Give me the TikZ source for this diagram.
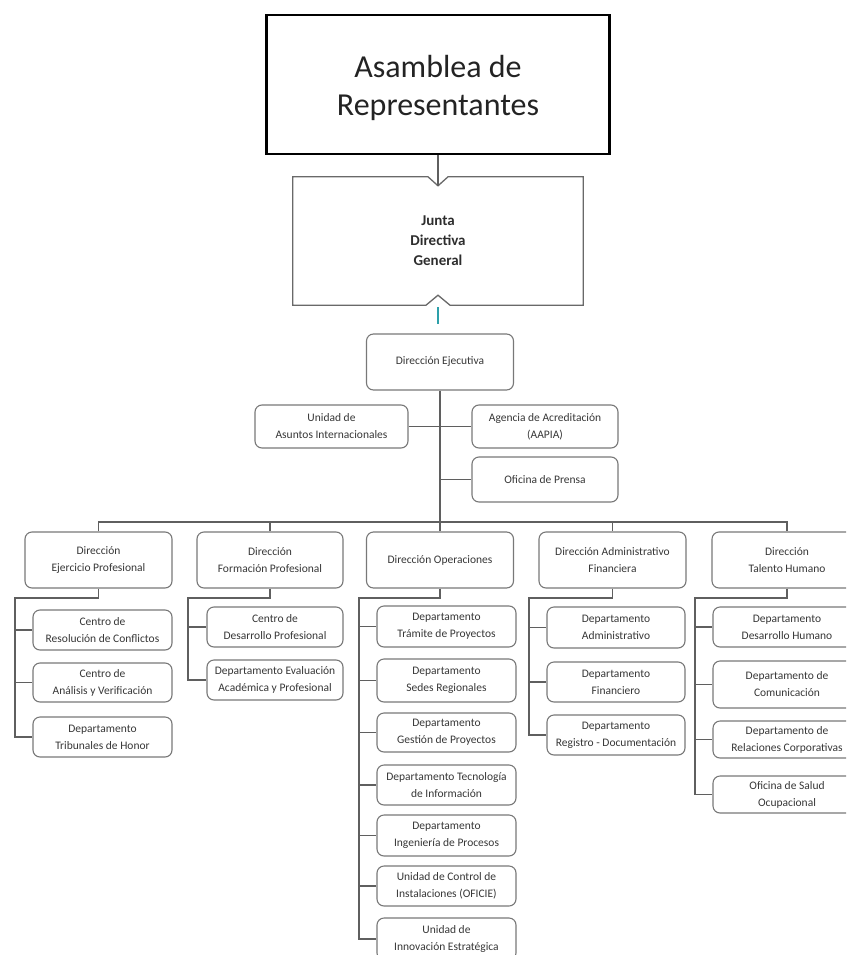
\documentclass[tikz,border=0pt]{standalone}
\usepackage{fontspec}
\setmainfont{Carlito}
\usetikzlibrary{calc}
\definecolor{ink}{RGB}{55,55,55}
\definecolor{edgegray}{RGB}{120,120,120}
\definecolor{wiregray}{RGB}{95,95,95}
\definecolor{tealbar}{RGB}{45,160,170}
\tikzset{
  unit/.style={draw=edgegray, line width=1.1pt, rounded corners=7pt, fill=white,
    align=center, text=ink, inner sep=0pt, font=\fontsize{11.5}{17}\selectfont},
  sz/.style 2 args={minimum width=#1pt, minimum height=#2pt},
  wire/.style={draw=wiregray, line width=1.2pt},
}
\begin{document}
\begin{tikzpicture}[x=1pt,y=-1pt]
\useasboundingbox (0,0) rectangle (846,955);
\clip (0,0) rectangle (846,955);

% governing bodies
\node[draw=black, line width=2.4pt, sz={343}{139}] (A) at (438,84.5) {};
\node[align=center, text={rgb,255:red,35;green,35;blue,35}, font=\fontsize{32}{38}\selectfont]
  (At) at ($(A.center)+(0,3)$) {Asamblea de\\Representantes};
\node[sz={290}{128}, align=center, text={rgb,255:red,45;green,45;blue,45},
      font=\bfseries\fontsize{15}{20}\selectfont] (J) at (438,241) {Junta\\Directiva\\General};
\draw[draw={rgb,255:red,105;green,105;blue,105}, line width=1.3pt, line join=miter]
  (J.north west) -- ($(J.north)+(-10,0)$) -- ($(J.north)+(0,9)$) -- ($(J.north)+(10,0)$)
  -- (J.north east) -- (J.south east) -- ($(J.south)+(12,0)$) -- ($(J.south)+(0,-10)$)
  -- ($(J.south)+(-12,0)$) -- (J.south west) -- cycle;
\draw[wire] (A.south) -- ($(J.north)+(0,9)$);

% executive direction and staff units
\node[unit, sz={147}{56}] (DE) at (440,362) {Dirección Ejecutiva};
\draw[tealbar, line width=2.5pt] ($(J.south)+(0,2)$) -- ($(J.south |- DE.north)+(0,-9)$);
\node[unit, sz={153}{43}] (UAI) at (331.5,426.5) {Unidad de\\Asuntos Internacionales};
\node[unit, sz={146}{43}] (AAP) at (545,426.5) {Agencia de Acreditación\\(AAPIA)};
\node[unit, sz={146}{45}] (PRE) at (545,479.5) {Oficina de Prensa};

% second level directions
\node[unit, sz={147}{56}] (DEP) at (98.5,560) {Dirección\\Ejercicio Profesional};
\node[unit, sz={146}{56}] (DFP) at (270,560) {Dirección\\Formación  Profesional};
\node[unit, sz={147}{56}] (DO)  at (440,560) {Dirección Operaciones};
\node[unit, sz={147}{56}] (DAF) at (612.5,560) {Dirección Administrativo\\Financiera};
\node[unit, sz={150}{56}] (DTH) at (787,560) {Dirección\\Talento Humano};

% trunk and main bar
\coordinate (bar) at (440,522);
\draw[wire] (DE.south) -- (DO.north);
\draw[wire] (UAI.east) -- (AAP.west);
\draw[wire] (PRE.west -| DE.south) -- (PRE.west);
\draw[wire, line width=1.6pt] (DEP.north) -- (DEP.north |- bar) -- (DTH.north |- bar) -- (DTH.north);
\draw[wire] (DFP.north |- bar) -- (DFP.north);
\draw[wire] (DAF.north |- bar) -- (DAF.north);

% Ejercicio Profesional
\node[unit, sz={139}{40}] (e1) at (102.5,630) {Centro de\\Resolución de Conflictos};
\node[unit, sz={139}{39}] (e2) at (102.5,682.5) {Centro de\\Análisis y Verificación};
\node[unit, sz={139}{40}] (e3) at (102.5,737) {Departamento\\Tribunales de Honor};
\coordinate (se) at (15,598);
\draw[wire] (DEP.south) |- (se) -- (se |- e3.west) -- (e3.west);
\draw[wire] (e1.west -| se) -- (e1.west);
\draw[wire] (e2.west -| se) -- (e2.west);

% Formacion Profesional
\node[unit, sz={136}{40}] (f1) at (275,627) {Centro de\\Desarrollo Profesional};
\node[unit, sz={136}{40}] (f2) at (275,680) {Departamento  Evaluación\\Académica y Profesional};
\coordinate (sf) at (188,598);
\draw[wire] (DFP.south) |- (sf) -- (sf |- f2.west) -- (f2.west);
\draw[wire] (f1.west -| sf) -- (f1.west);

% Operaciones
\node[unit, sz={139}{41}] (o1) at (446.5,626.5) {Departamento\\Trámite de Proyectos};
\node[unit, sz={139}{43}] (o2) at (446.5,680.5) {Departamento\\Sedes Regionales};
\node[unit, sz={139}{39}] (o3) at (446.5,732.5) {Departamento\\Gestión de Proyectos};
\node[unit, sz={139}{40}] (o4) at (446.5,785) {Departamento  Tecnología\\de Información};
\node[unit, sz={139}{41}] (o5) at (446.5,835.5) {Departamento\\Ingeniería de Procesos};
\node[unit, sz={139}{40}] (o6) at (446.5,886) {Unidad de Control de\\Instalaciones (OFICIE)};
\node[unit, sz={139}{42}] (o7) at (446.5,939) {Unidad de\\Innovación Estratégica};
\coordinate (so) at (359,598);
\draw[wire] (DO.south) |- (so) -- (so |- o7.west) -- (o7.west);
\foreach \n in {o1,o2,o3,o4,o5,o6}
  \draw[wire] (\n.west -| so) -- (\n.west);

% Administrativo Financiera
\node[unit, sz={138}{41}] (a1) at (616,627.5) {Departamento\\Administrativo};
\node[unit, sz={138}{40}] (a2) at (616,682) {Departamento\\Financiero};
\node[unit, sz={138}{40}] (a3) at (616,735) {Departamento\\Registro - Documentación};
\coordinate (sa) at (529,598);
\draw[wire] (DAF.south) |- (sa) -- (sa |- a3.west) -- (a3.west);
\foreach \n in {a1,a2}
  \draw[wire] (\n.west -| sa) -- (\n.west);

% Talento Humano
\node[unit, sz={148}{40}] (t1) at (787,627) {Departamento\\Desarrollo Humano};
\node[unit, sz={148}{47}] (t2) at (787,684.5) {Departamento de\\Comunicación};
\node[unit, sz={148}{37}] (t3) at (787,739.5) {Departamento de\\Relaciones Corporativas};
\node[unit, sz={148}{37}] (t4) at (787,794.5) {Oficina de Salud\\Ocupacional};
\coordinate (st) at (695,598);
\draw[wire] (DTH.south) |- (st) -- (st |- t4.west) -- (t4.west);
\foreach \n in {t1,t2,t3}
  \draw[wire] (\n.west -| st) -- (\n.west);
\end{tikzpicture}
\end{document}
